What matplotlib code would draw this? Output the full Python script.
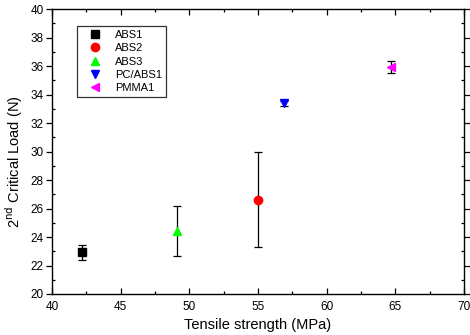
import numpy as np
import matplotlib.pyplot as plt
from matplotlib.ticker import MultipleLocator

plt.rcParams['font.family'] = ['Liberation Sans', 'DejaVu Sans']

# data
names = ['ABS1', 'ABS2', 'ABS3', 'PC/ABS1', 'PMMA1']
tensile = [42.2, 55.0, 49.1, 56.9, 64.7]
load = [22.92, 26.62, 24.42, 33.38, 35.95]
load_err = [0.54, 3.33, 1.75, 0.2, 0.43]
colors = ['black', 'red', '#00ff00', 'blue', 'magenta']
markers = ['s', 'o', '^', 'v', '<']

fig = plt.figure(figsize=(4.7, 3.35), dpi=100)
ax = fig.add_axes([0.1106, 0.1224, 0.8764, 0.8506])

for n, x, y, e, c, m in zip(names, tensile, load, load_err, colors, markers):
    ax.errorbar(x, y, yerr=e, fmt='none', ecolor='black', elinewidth=0.9,
                capsize=3, capthick=0.9, zorder=2)
    ax.plot(x, y, linestyle='none', marker=m, color=c, markersize=6,
            label=n, zorder=3)

ax.set_xlim(40, 70)
ax.set_ylim(20, 40)
ax.xaxis.set_major_locator(MultipleLocator(5))
ax.xaxis.set_minor_locator(MultipleLocator(2.5))
ax.yaxis.set_major_locator(MultipleLocator(2))
ax.yaxis.set_minor_locator(MultipleLocator(1))

ax.tick_params(axis='x', which='both', direction='in', labelsize=8.5, pad=5)
ax.tick_params(axis='x', which='major', length=4, width=0.9)
ax.tick_params(axis='x', which='minor', length=2.5, width=0.9)
ax.tick_params(axis='x', which='both', top=True, color='black')
ax.tick_params(axis='y', which='major', direction='out', length=4, width=0.9,
               labelsize=8.5, pad=2)
ax.tick_params(axis='y', which='minor', direction='in', length=2.5, width=0.9)
ax.tick_params(axis='y', which='both', right=True)
for s in ax.spines.values():
    s.set_linewidth(1.0)

ax.set_xlabel('Tensile strength (MPa)', fontsize=10.5, labelpad=4)
ax.set_ylabel('2$^{\\rm nd}$ Critical Load (N)', fontsize=10.5)
ax.yaxis.set_label_coords(-0.066, 0.463)

leg = ax.legend(loc='upper left', bbox_to_anchor=(0.061, 0.94), fontsize=8,
                frameon=True, fancybox=False, edgecolor='black',
                borderaxespad=0, handletextpad=0.5, labelspacing=0.3,
                borderpad=0.35, handlelength=2.6)
leg.get_frame().set_linewidth(0.9)

fig.savefig('out.png', dpi=100)
